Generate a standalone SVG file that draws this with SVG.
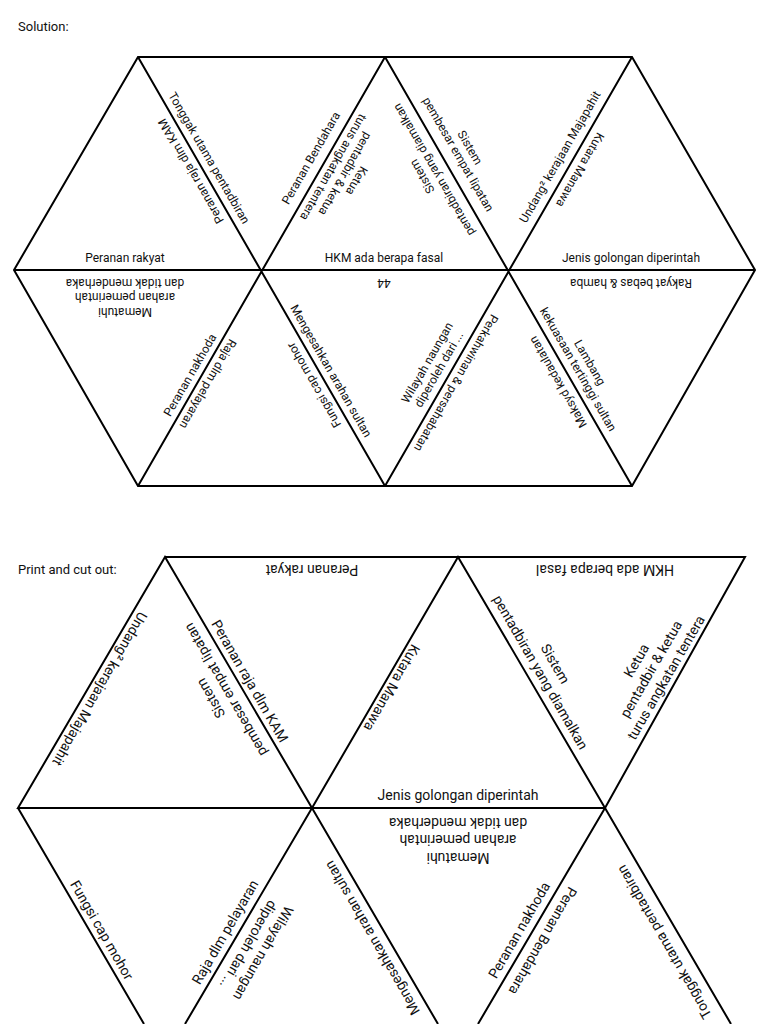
<svg xmlns="http://www.w3.org/2000/svg" width="768" height="1024" viewBox="0 0 768 1024">
<style>
.bg{fill:#fff}
.ln{stroke:#000;stroke-width:2;fill:none;stroke-linejoin:miter}
text{font-family:Roboto,"Liberation Sans",sans-serif;fill:#111;text-anchor:middle;dominant-baseline:central}
.s{font-size:12px}
.b{font-size:14px}
.h{font-size:13px;text-anchor:start}
</style>
<rect class="bg" width="768" height="1024"/>
<text class="h" x="18" y="26">Solution:</text>
<text class="h" x="18" y="569">Print and cut out:</text>
<g id="connectors">
<path class="ln" d="M138,57 L632,57 L755,270 L632,486 L138,486 L14,270 Z M14,270 L755,270 M138,57 L385,486 M385,57 L632,486 M385,57 L138,486 M632,57 L385,486"/>
<path class="ln" d="M165,557 L745,557 L605,808 L18,808 Z M18,808 L165,557 L312,808 L458,557 L605,808 M18,808 L144,1024 M312,808 L185,1024 M312,808 L438,1024 M605,808 L478,1024 M605,808 L731,1024"/>
</g>
<g id="solution">
<text class="s" x="125" y="258">Peranan rakyat</text>
<text class="s" x="384" y="258">HKM ada berapa fasal</text>
<text class="s" x="631" y="258">Jenis golongan diperintah</text>
<text class="s" transform="translate(209,158) rotate(60)">Tonggak utama pentadbiran</text>
<text class="s" transform="translate(191,171) rotate(-120)">Peranan raja dlm KAM</text>
<text class="s" transform="translate(311,158) rotate(-60)">Peranan Bendahara</text>
<text class="s" transform="translate(345,174) rotate(120)"><tspan x="0" y="-13.5">Ketua</tspan><tspan x="0" y="0">pentadbir &amp; ketua</tspan><tspan x="0" y="13.5">turus angkatan tentera</tspan></text>
<text class="s" transform="translate(464,151) rotate(60)"><tspan x="0" y="-6.75">Sistem</tspan><tspan x="0" y="6.75">pembesar empat lipatan</tspan></text>
<text class="s" transform="translate(428,173) rotate(-120)"><tspan x="0" y="-6.75">Sistem</tspan><tspan x="0" y="6.75">pentadbiran yang diamalkan</tspan></text>
<text class="s" transform="translate(560,157) rotate(-60)">Undang² kerajaan Majapahit</text>
<text class="s" transform="translate(580,170) rotate(120)">Kutara Manawa</text>
<text class="s" transform="translate(125,297) rotate(180)"><tspan x="0" y="-14.5">Mematuhi</tspan><tspan x="0" y="0">arahan pemerintah</tspan><tspan x="0" y="14.5">dan tidak menderhaka</tspan></text>
<text class="s" transform="translate(384,283) rotate(180)">44</text>
<text class="s" transform="translate(631,283) rotate(180)">Rakyat bebas &amp; hamba</text>
<text class="s" transform="translate(190,375) rotate(-60)">Peranan nakhoda</text>
<text class="s" transform="translate(208,384) rotate(120)">Raja dlm pelayaran</text>
<text class="s" transform="translate(331,371) rotate(60)">Mengesahkan arahan sultan</text>
<text class="s" transform="translate(314,385) rotate(-120)">Fungsi cap mohor</text>
<text class="s" transform="translate(433,366) rotate(-60)"><tspan x="0" y="-6.75">Wilayah naungan</tspan><tspan x="0" y="6.75">diperoleh dari ...</tspan></text>
<text class="s" transform="translate(456,383) rotate(120)">Perkahwinan &amp; persahabatan</text>
<text class="s" transform="translate(584,366) rotate(60)"><tspan x="0" y="-6.75">Lambang</tspan><tspan x="0" y="6.75">kekuasaan tertinggi sultan</tspan></text>
<text class="s" transform="translate(558,382) rotate(-120)">Maksyd kedaulatan</text>
</g>
<g id="cutout">
<text class="b" transform="translate(312,570) rotate(180)">Peranan rakyat</text>
<text class="b" transform="translate(605,570) rotate(180)">HKM ada berapa fasal</text>
<text class="b" x="458" y="795">Jenis golongan diperintah</text>
<text class="b" transform="translate(100,689) rotate(120)">Undang² kerajaan Majapahit</text>
<text class="b" transform="translate(250,681) rotate(60)">Peranan raja dlm KAM</text>
<text class="b" transform="translate(218,694) rotate(-120)"><tspan x="0" y="-8.5">Sistem</tspan><tspan x="0" y="8.5">pembesar empat lipatan</tspan></text>
<text class="b" transform="translate(392,688) rotate(120)">Kutara Manawa</text>
<text class="b" transform="translate(548,668) rotate(60)"><tspan x="0" y="-8.5">Sistem</tspan><tspan x="0" y="8.5">pentadbiran yang diamalkan</tspan></text>
<text class="b" transform="translate(651,669) rotate(-60)"><tspan x="0" y="-17">Ketua</tspan><tspan x="0" y="0">pentadbir &amp; ketua</tspan><tspan x="0" y="17">turus angkatan tentera</tspan></text>
<text class="b" transform="translate(458,840) rotate(180)"><tspan x="0" y="-17.5">Mematuhi</tspan><tspan x="0" y="0">arahan pemerintah</tspan><tspan x="0" y="17.5">dan tidak menderhaka</tspan></text>
<text class="b" transform="translate(102,930) rotate(60)">Fungsi cap mohor</text>
<text class="b" transform="translate(225,932) rotate(-60)">Raja dlm pelayaran</text>
<text class="b" transform="translate(256,949) rotate(120)"><tspan x="0" y="-8.5">Wilayah naungan</tspan><tspan x="0" y="8.5">diperoleh dari ...</tspan></text>
<text class="b" transform="translate(372,938) rotate(-120)">Mengesahkan arahan sultan</text>
<text class="b" transform="translate(519,930) rotate(-60)">Peranan nakhoda</text>
<text class="b" transform="translate(543,941) rotate(120)">Peranan Bendahara</text>
<text class="b" transform="translate(664,942) rotate(-120)">Tonggak utama pentadbiran</text>
</g>
</svg>
